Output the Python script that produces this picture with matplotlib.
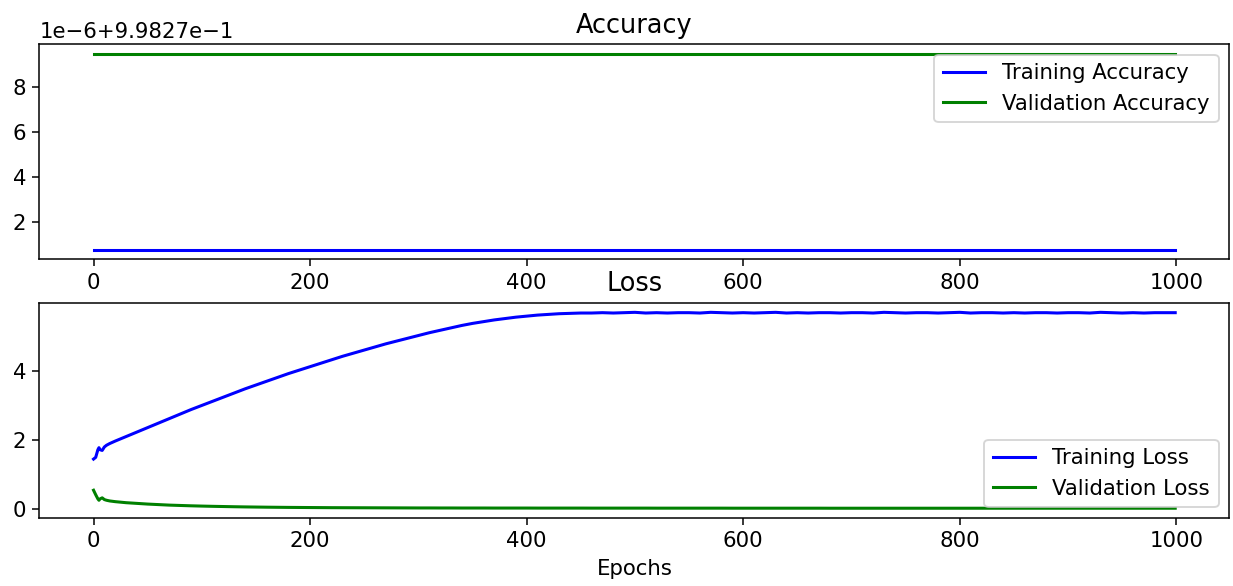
import matplotlib
matplotlib.use('Agg')
import matplotlib.pyplot as plt

plt.rcParams['font.size'] = 11.2

# epochs sampled from the curves (denser at the start where the lines wiggle)
epochs = [0, 2, 4, 5, 6, 8, 10, 12, 15, 20] + list(range(30, 1000, 10)) + [999]

# accuracy is flat for the whole run
train_acc_value = 0.99827077
val_acc_value = 0.99827950
train_acc = [train_acc_value] * len(epochs)
val_acc = [val_acc_value] * len(epochs)

train_loss = [1.45, 1.50, 1.72, 1.78, 1.72, 1.70, 1.80, 1.85, 1.90, 1.97,
              2.10, 2.23, 2.36, 2.49, 2.62, 2.75, 2.88, 3.00, 3.12, 3.24,
              3.36, 3.48, 3.59, 3.70, 3.81, 3.92, 4.02, 4.12, 4.22, 4.32,
              4.42, 4.51, 4.60, 4.69, 4.78, 4.86, 4.94, 5.02, 5.10, 5.17,
              5.24, 5.31, 5.37, 5.42, 5.47, 5.51, 5.55, 5.58, 5.61, 5.63,
              5.65, 5.66, 5.67,
              5.67, 5.68, 5.67, 5.68, 5.69, 5.67, 5.68, 5.67, 5.68, 5.68,
              5.67, 5.69, 5.68, 5.67, 5.68, 5.67, 5.68, 5.69, 5.67, 5.68,
              5.67, 5.68, 5.68, 5.67, 5.68, 5.68, 5.67, 5.69, 5.68, 5.67,
              5.68, 5.68, 5.67, 5.68, 5.69, 5.67, 5.68, 5.68, 5.67, 5.68,
              5.67, 5.68, 5.68, 5.67, 5.68, 5.68, 5.67, 5.69, 5.68, 5.67,
              5.68, 5.67, 5.68, 5.68,
              5.68]

val_loss = [0.55, 0.42, 0.30, 0.26, 0.30, 0.33, 0.28, 0.26, 0.24, 0.22,
            0.19, 0.17, 0.15, 0.135, 0.12, 0.11, 0.10, 0.092, 0.085, 0.079,
            0.073, 0.068, 0.064, 0.060, 0.057, 0.054, 0.052, 0.050, 0.048, 0.046,
            0.045, 0.044, 0.043, 0.042, 0.041, 0.040, 0.039, 0.038,
            0.038, 0.037, 0.037, 0.036, 0.036, 0.036, 0.035, 0.035, 0.035, 0.035,
            0.034, 0.034, 0.034, 0.034, 0.034, 0.033, 0.033, 0.033, 0.033, 0.033,
            0.033, 0.032, 0.032, 0.032, 0.032, 0.032, 0.032, 0.032, 0.031, 0.031,
            0.031, 0.031, 0.031, 0.031, 0.031, 0.031, 0.031, 0.030, 0.030, 0.030,
            0.030, 0.030, 0.030, 0.030, 0.030, 0.030, 0.030, 0.030, 0.030, 0.030,
            0.030, 0.030, 0.030, 0.030, 0.030, 0.030, 0.030, 0.030, 0.030, 0.030,
            0.030, 0.030, 0.030, 0.030, 0.030, 0.030, 0.030, 0.030, 0.030,
            0.030]

assert len(train_loss) == len(epochs), len(train_loss)
assert len(val_loss) == len(epochs), len(val_loss)

fig, (ax1, ax2) = plt.subplots(2, 1, figsize=(1233 / 137, 586 / 137), dpi=137)
plt.subplots_adjust(left=0.032, right=0.997, top=0.925, bottom=0.116, hspace=0.2)

ax1.plot(epochs, train_acc, color='blue', lw=1.6, label='Training Accuracy')
ax1.plot(epochs, val_acc, color='green', lw=1.6, label='Validation Accuracy')
ax1.set_title('Accuracy')
ax1.legend(loc='upper right')

ax2.plot(epochs, train_loss, color='blue', lw=1.6, label='Training Loss')
ax2.plot(epochs, val_loss, color='green', lw=1.6, label='Validation Loss')
ax2.set_title('Loss')
ax2.set_xlabel('Epochs')
ax2.legend(loc='lower right')

plt.savefig('out.png', dpi=137)
